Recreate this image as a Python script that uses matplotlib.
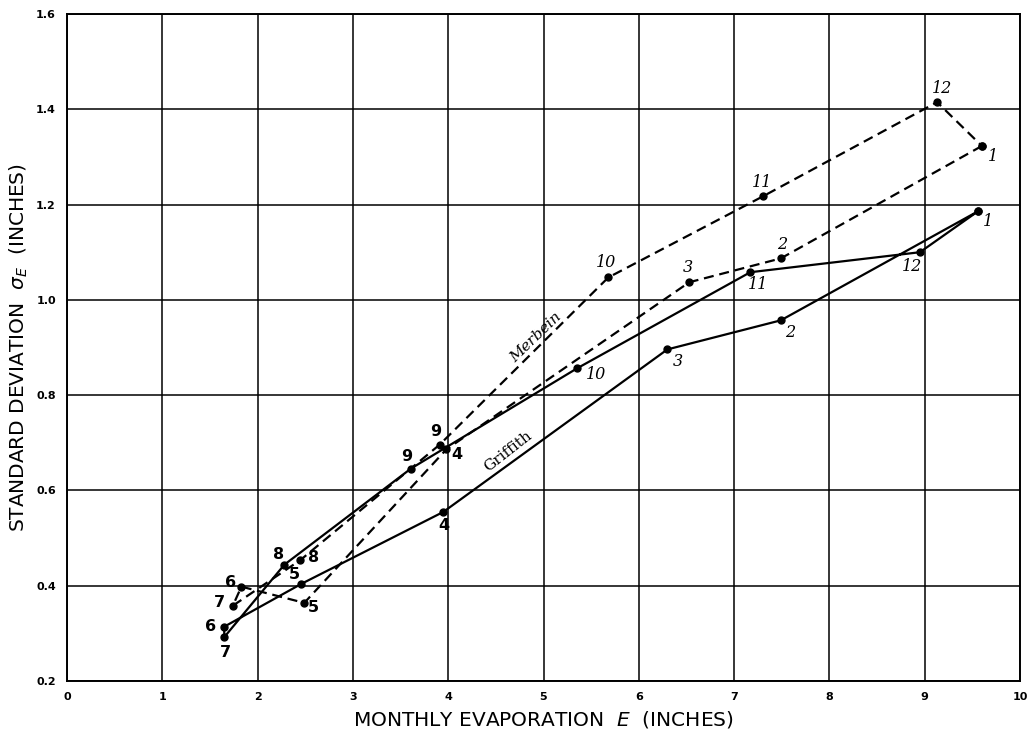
import matplotlib
matplotlib.use("Agg")
import matplotlib.pyplot as plt

months = [1, 2, 3, 4, 5, 6, 7, 8, 9, 10, 11, 12]

griffith_E = [9.56, 7.49, 6.30, 3.95, 2.46, 1.65, 1.65, 2.28, 3.61, 5.35, 7.17, 8.95]
griffith_sd = [1.186, 0.957, 0.896, 0.555, 0.404, 0.314, 0.292, 0.444, 0.646, 0.856, 1.058, 1.10]

merbein_E = [9.60, 7.49, 6.53, 3.98, 2.49, 1.83, 1.74, 2.45, 3.91, 5.68, 7.30, 9.13]
merbein_sd = [1.323, 1.087, 1.037, 0.686, 0.364, 0.398, 0.358, 0.454, 0.696, 1.047, 1.217, 1.415]

x_ticks = [0, 1, 2, 3, 4, 5, 6, 7, 8, 9, 10]
y_ticks = [0.2, 0.4, 0.6, 0.8, 1.0, 1.2, 1.4, 1.6]
y_ticklabels = ["0.2", "0.4", "0.6", "0.8", "1.0", "1.2", "1.4", "1.6"]

# label offsets (pixels) for month numbers
g_off = {1: (10, -10), 2: (9, -12), 3: (10, -12), 4: (0, -14), 5: (-7, 9), 6: (-14, 0),
         7: (1, -15), 8: (-6, 10), 9: (-4, 12), 10: (19, -6), 11: (8, -12), 12: (-8, -14)}
m_off = {1: (11, -11), 2: (1, 14), 3: (-1, 15), 4: (11, -5), 5: (9, -5), 6: (-11, 4),
         7: (-13, 3), 8: (13, 2), 9: (-4, 13), 10: (-2, 15), 11: (-1, 14), 12: (5, 14)}
italic_months = {1, 2, 3, 10, 11, 12}

fig = plt.figure(figsize=(10.30, 7.39), dpi=100)
ax = fig.add_axes([67 / 1030, 1 - 681 / 739, (1020 - 67) / 1030, (681 - 14) / 739])
ax.set_xlim(0, 10)
ax.set_ylim(0.2, 1.6)
ax.set_xticks(x_ticks)
ax.set_yticks(y_ticks)
ax.set_xticklabels([str(v) for v in x_ticks], fontsize=8, fontweight="bold")
ax.set_yticklabels(y_ticklabels, fontsize=8, fontweight="bold")
ax.tick_params(length=0, pad=8)
ax.grid(True, color="black", linewidth=1.1)
ax.set_axisbelow(True)
for s in ax.spines.values():
    s.set_linewidth(1.4)
    s.set_color("black")

gx = griffith_E + [griffith_E[0]]
gy = griffith_sd + [griffith_sd[0]]
mx = merbein_E + [merbein_E[0]]
my = merbein_sd + [merbein_sd[0]]

ax.plot(gx, gy, color="black", linewidth=1.6, marker="o", markersize=5, zorder=3)
ax.plot(mx, my, color="black", linewidth=1.6, linestyle=(0, (4.5, 2.6)), marker="o",
        markersize=5, zorder=3)

def put(xs, ys, offs):
    for m, x, y in zip(months, xs, ys):
        dx, dy = offs[m]
        if m in italic_months:
            kw = dict(family="DejaVu Serif", style="italic", fontsize=11.5)
        else:
            kw = dict(family="DejaVu Sans", fontweight="bold", fontsize=11.5)
        ax.annotate(str(m), (x, y), xytext=(dx, dy), textcoords="offset pixels",
                    ha="center", va="center", **kw)

put(griffith_E, griffith_sd, g_off)
put(merbein_E, merbein_sd, m_off)

ax.text(4.63, 0.681, "Griffith", rotation=38, ha="center", va="center",
        family="DejaVu Serif", fontsize=11)
ax.text(4.92, 0.921, "Merbein", rotation=44, ha="center", va="center",
        family="DejaVu Serif", style="italic", fontsize=11)

ax.set_xlabel(r"MONTHLY EVAPORATION  $E$  (INCHES)", fontsize=14.5,
              family="DejaVu Sans", labelpad=5)
ax.set_ylabel(r"STANDARD DEVIATION  $\sigma_E$  (INCHES)", fontsize=14.5,
              family="DejaVu Sans", labelpad=4)

fig.savefig("out.png", dpi=100)
